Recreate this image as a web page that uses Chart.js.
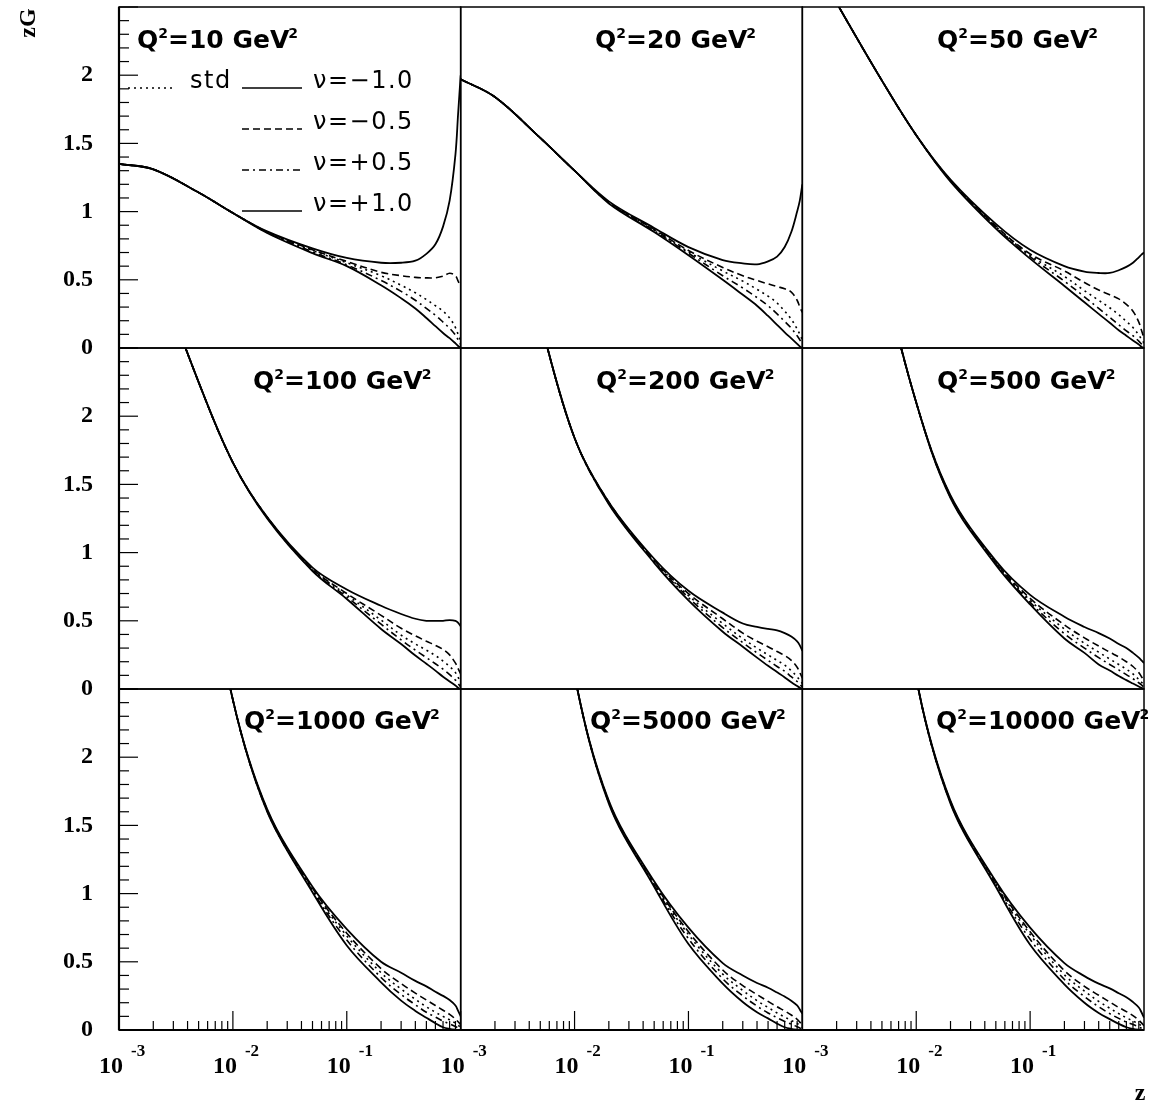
<!DOCTYPE html>
<html>
<head>
<meta charset="utf-8">
<title>zG vs z for several Q2</title>
<script src="https://cdn.jsdelivr.net/npm/chart.js@4.4.1/dist/chart.umd.min.js"></script>
<style>
  html, body { margin: 0; padding: 0; background: #fff; }
  #wrap { position: relative; width: 1165px; height: 1103px; overflow: hidden; }
  #wrap canvas { position: absolute; left: 0; top: 0; }
</style>
</head>
<body>
<div id="wrap"></div>
<script>
// ── Data ──────────────────────────────────────────────────────────────────────
// z grid shared by every curve
const Z = [0.001, 0.002, 0.005, 0.01, 0.02, 0.05, 0.1, 0.2, 0.3, 0.4, 0.5, 0.6, 0.7, 0.8, 0.9, 0.95, 1.0];

const Q2_VALUES = ['10', '20', '50', '100', '200', '500', '1000', '5000', '10000'];
const Y_TICKS   = [0, 0.5, 1, 1.5, 2];
const X_DECADES = [-3, -2, -1];

// Q2 = 10
const q10_m10 = [1.35, 1.31, 1.14, 0.99, 0.855, 0.73, 0.66, 0.625, 0.625, 0.64, 0.69, 0.76, 0.89, 1.08, 1.42, 1.72, 2.0];
const q10_m05 = [1.35, 1.31, 1.14, 0.99, 0.852, 0.72, 0.635, 0.555, 0.53, 0.518, 0.514, 0.515, 0.526, 0.548, 0.53, 0.49, 0.45];
const q10_std = [1.35, 1.31, 1.14, 0.99, 0.849, 0.715, 0.625, 0.53, 0.46, 0.405, 0.355, 0.31, 0.27, 0.22, 0.15, 0.10, 0.05];
const q10_p05 = [1.35, 1.31, 1.14, 0.99, 0.846, 0.705, 0.61, 0.495, 0.415, 0.35, 0.29, 0.24, 0.19, 0.145, 0.095, 0.06, 0.025];
const q10_p10 = [1.35, 1.31, 1.14, 0.99, 0.843, 0.695, 0.60, 0.46, 0.365, 0.29, 0.22, 0.16, 0.11, 0.072, 0.034, 0.015, 0.0];
// Q2 = 20
const q20_m10 = [1.97, 1.84, 1.54, 1.30, 1.075, 0.88, 0.74, 0.645, 0.62, 0.613, 0.635, 0.67, 0.74, 0.85, 1.00, 1.08, 1.20];
const q20_m05 = [1.97, 1.84, 1.54, 1.30, 1.07, 0.87, 0.715, 0.59, 0.53, 0.495, 0.47, 0.45, 0.435, 0.41, 0.35, 0.30, 0.26];
const q20_std = [1.97, 1.84, 1.54, 1.30, 1.07, 0.865, 0.705, 0.565, 0.49, 0.43, 0.38, 0.33, 0.27, 0.21, 0.14, 0.10, 0.06];
const q20_p05 = [1.97, 1.84, 1.54, 1.30, 1.065, 0.86, 0.695, 0.53, 0.44, 0.37, 0.31, 0.25, 0.195, 0.145, 0.09, 0.06, 0.03];
const q20_p10 = [1.97, 1.84, 1.54, 1.30, 1.06, 0.85, 0.68, 0.50, 0.39, 0.31, 0.235, 0.17, 0.115, 0.07, 0.03, 0.012, 0.0];
// Q2 = 50
const q50_m10 = [2.98, 2.53, 1.96, 1.56, 1.235, 0.91, 0.72, 0.60, 0.56, 0.55, 0.55, 0.57, 0.595, 0.625, 0.665, 0.685, 0.70];
const q50_m05 = [2.98, 2.53, 1.96, 1.56, 1.23, 0.895, 0.69, 0.565, 0.48, 0.425, 0.39, 0.36, 0.32, 0.27, 0.19, 0.13, 0.07];
const q50_std = [2.98, 2.53, 1.96, 1.56, 1.23, 0.89, 0.68, 0.525, 0.42, 0.35, 0.295, 0.245, 0.195, 0.15, 0.095, 0.065, 0.035];
const q50_p05 = [2.98, 2.53, 1.96, 1.56, 1.225, 0.885, 0.67, 0.49, 0.375, 0.29, 0.225, 0.17, 0.125, 0.09, 0.05, 0.03, 0.012];
const q50_p10 = [2.98, 2.53, 1.96, 1.56, 1.22, 0.875, 0.655, 0.455, 0.335, 0.25, 0.185, 0.13, 0.09, 0.055, 0.025, 0.01, 0.0];
// Q2 = 100
const q100_m10 = [3.9, 3.15, 2.25, 1.66, 1.26, 0.89, 0.73, 0.61, 0.55, 0.515, 0.50, 0.50, 0.50, 0.505, 0.50, 0.485, 0.46];
const q100_m05 = [3.9, 3.15, 2.25, 1.66, 1.26, 0.88, 0.70, 0.54, 0.445, 0.39, 0.35, 0.32, 0.29, 0.25, 0.19, 0.15, 0.11];
const q100_std = [3.9, 3.15, 2.25, 1.66, 1.26, 0.875, 0.69, 0.505, 0.395, 0.33, 0.285, 0.245, 0.205, 0.165, 0.12, 0.085, 0.05];
const q100_p05 = [3.9, 3.15, 2.25, 1.66, 1.255, 0.87, 0.675, 0.475, 0.36, 0.285, 0.23, 0.185, 0.145, 0.105, 0.065, 0.04, 0.015];
const q100_p10 = [3.9, 3.15, 2.25, 1.66, 1.25, 0.865, 0.66, 0.44, 0.33, 0.245, 0.185, 0.135, 0.09, 0.055, 0.025, 0.01, 0.0];
// Q2 = 200
const q200_m10 = [5.1, 4.0, 2.7, 1.84, 1.37, 0.955, 0.72, 0.56, 0.48, 0.455, 0.44, 0.43, 0.41, 0.385, 0.35, 0.32, 0.28];
const q200_m05 = [5.1, 4.0, 2.7, 1.84, 1.37, 0.945, 0.70, 0.515, 0.41, 0.35, 0.31, 0.275, 0.245, 0.21, 0.16, 0.12, 0.08];
const q200_std = [5.1, 4.0, 2.7, 1.84, 1.365, 0.94, 0.685, 0.48, 0.37, 0.30, 0.25, 0.21, 0.175, 0.135, 0.09, 0.065, 0.04];
const q200_p05 = [5.1, 4.0, 2.7, 1.84, 1.36, 0.935, 0.67, 0.45, 0.34, 0.265, 0.21, 0.165, 0.13, 0.09, 0.055, 0.035, 0.015];
const q200_p10 = [5.1, 4.0, 2.7, 1.84, 1.355, 0.925, 0.65, 0.42, 0.31, 0.23, 0.17, 0.125, 0.085, 0.05, 0.022, 0.01, 0.0];
// Q2 = 500
const q500_m10 = [6.3, 4.8, 3.1, 2.1, 1.42, 0.94, 0.69, 0.53, 0.455, 0.41, 0.37, 0.33, 0.30, 0.265, 0.23, 0.21, 0.19];
const q500_m05 = [6.3, 4.8, 3.1, 2.1, 1.415, 0.93, 0.665, 0.47, 0.375, 0.315, 0.27, 0.235, 0.20, 0.165, 0.12, 0.09, 0.06];
const q500_std = [6.3, 4.8, 3.1, 2.1, 1.41, 0.925, 0.65, 0.44, 0.335, 0.27, 0.22, 0.18, 0.145, 0.11, 0.07, 0.05, 0.03];
const q500_p05 = [6.3, 4.8, 3.1, 2.1, 1.405, 0.92, 0.635, 0.405, 0.30, 0.23, 0.18, 0.14, 0.105, 0.075, 0.045, 0.03, 0.012];
const q500_p10 = [6.3, 4.8, 3.1, 2.1, 1.40, 0.91, 0.62, 0.37, 0.265, 0.18, 0.135, 0.095, 0.065, 0.04, 0.018, 0.008, 0.0];
// Q2 = 1000
const q1000_m10 = [9.0, 6.6, 3.8, 2.42, 1.62, 1.05, 0.74, 0.50, 0.42, 0.36, 0.32, 0.28, 0.25, 0.22, 0.18, 0.14, 0.10];
const q1000_m05 = [9.0, 6.6, 3.8, 2.42, 1.615, 1.04, 0.71, 0.45, 0.34, 0.27, 0.22, 0.18, 0.145, 0.115, 0.08, 0.06, 0.04];
const q1000_std = [9.0, 6.6, 3.8, 2.42, 1.61, 1.03, 0.69, 0.42, 0.30, 0.225, 0.17, 0.13, 0.10, 0.075, 0.05, 0.035, 0.02];
const q1000_p05 = [9.0, 6.6, 3.8, 2.42, 1.605, 1.02, 0.66, 0.385, 0.26, 0.185, 0.13, 0.095, 0.065, 0.045, 0.025, 0.015, 0.005];
const q1000_p10 = [9.0, 6.6, 3.8, 2.42, 1.60, 1.01, 0.62, 0.35, 0.215, 0.14, 0.09, 0.05, 0.02, 0.008, 0.002, 0.001, 0.0];
// Q2 = 5000
const q5000_m10 = [10.5, 7.6, 4.2, 2.6, 1.68, 1.09, 0.75, 0.49, 0.40, 0.345, 0.31, 0.275, 0.245, 0.215, 0.18, 0.15, 0.12];
const q5000_m05 = [10.5, 7.6, 4.2, 2.6, 1.675, 1.08, 0.72, 0.44, 0.325, 0.26, 0.21, 0.17, 0.14, 0.11, 0.078, 0.058, 0.038];
const q5000_std = [10.5, 7.6, 4.2, 2.6, 1.67, 1.07, 0.70, 0.41, 0.29, 0.215, 0.165, 0.125, 0.095, 0.07, 0.048, 0.034, 0.02];
const q5000_p05 = [10.5, 7.6, 4.2, 2.6, 1.665, 1.06, 0.67, 0.375, 0.25, 0.175, 0.125, 0.09, 0.062, 0.042, 0.024, 0.014, 0.005];
const q5000_p10 = [10.5, 7.6, 4.2, 2.6, 1.66, 1.05, 0.63, 0.34, 0.205, 0.13, 0.085, 0.047, 0.02, 0.008, 0.002, 0.001, 0.0];
// Q2 = 10000
const q10000_m10 = [10.8, 7.8, 4.3, 2.58, 1.68, 1.09, 0.75, 0.49, 0.395, 0.34, 0.305, 0.27, 0.24, 0.205, 0.165, 0.13, 0.09];
const q10000_m05 = [10.8, 7.8, 4.3, 2.58, 1.675, 1.08, 0.72, 0.435, 0.32, 0.255, 0.205, 0.165, 0.135, 0.105, 0.072, 0.052, 0.032];
const q10000_std = [10.8, 7.8, 4.3, 2.58, 1.67, 1.07, 0.70, 0.405, 0.285, 0.21, 0.16, 0.12, 0.09, 0.066, 0.044, 0.03, 0.018];
const q10000_p05 = [10.8, 7.8, 4.3, 2.58, 1.665, 1.06, 0.665, 0.37, 0.245, 0.17, 0.12, 0.085, 0.058, 0.04, 0.022, 0.013, 0.005];
const q10000_p10 = [10.8, 7.8, 4.3, 2.58, 1.66, 1.05, 0.625, 0.335, 0.20, 0.125, 0.08, 0.045, 0.02, 0.008, 0.002, 0.001, 0.0];

const SERIES = [
  [q10_std, q10_m10, q10_m05, q10_p05, q10_p10],
  [q20_std, q20_m10, q20_m05, q20_p05, q20_p10],
  [q50_std, q50_m10, q50_m05, q50_p05, q50_p10],
  [q100_std, q100_m10, q100_m05, q100_p05, q100_p10],
  [q200_std, q200_m10, q200_m05, q200_p05, q200_p10],
  [q500_std, q500_m10, q500_m05, q500_p05, q500_p10],
  [q1000_std, q1000_m10, q1000_m05, q1000_p05, q1000_p10],
  [q5000_std, q5000_m10, q5000_m05, q5000_p05, q5000_p10],
  [q10000_std, q10000_m10, q10000_m05, q10000_p05, q10000_p10],
];

const CURVE_LABELS = ['std', 'ν=−1.0', 'ν=−0.5', 'ν=+0.5', 'ν=+1.0'];

// ── Layout / styles ───────────────────────────────────────────────────────────
const W = 1165, H = 1103;
const GRID_LEFT = 119, GRID_TOP = 7, CELL_W = 341.67, CELL_H = 341;
const Y_AXIS_W = 80;

const DASHES = [[2, 4], [], [7, 4], [7, 4, 2, 4], []];   // std, -1, -0.5, +0.5, +1

// title left x / baseline per panel
const TITLE_POS = [
  [137, 48], [595, 48], [937, 48],
  [253, 389], [596, 389], [937, 389],
  [244, 729], [590, 729], [936, 729],
];

const SERIF = '"Liberation Serif", "Times New Roman", serif';
const SANS  = '"DejaVu Sans", Arial, sans-serif';

function panelRect(row, col) {
  const left = GRID_LEFT + col * CELL_W;
  const top  = GRID_TOP + row * CELL_H;
  return { left, top, right: left + CELL_W, bottom: top + CELL_H };
}

function hline(ctx, x1, y1, x2, y2) {
  ctx.beginPath(); ctx.moveTo(x1, y1); ctx.lineTo(x2, y2); ctx.stroke();
}

function drawTitle(ctx, x, y, num) {
  const big = `bold 25px ${SANS}`, small = `bold 14px ${SANS}`;
  ctx.fillStyle = '#000';
  ctx.textAlign = 'left';
  ctx.textBaseline = 'alphabetic';
  ctx.font = big;  ctx.fillText('Q', x, y); x += ctx.measureText('Q').width;
  ctx.font = small; ctx.fillText('2', x, y - 10); x += ctx.measureText('2').width;
  ctx.font = big;  const s = '=' + num + ' GeV'; ctx.fillText(s, x, y); x += ctx.measureText(s).width - 1;
  ctx.font = small; ctx.fillText('2', x, y - 10);
}

function drawLegend(ctx) {
  ctx.save();
  ctx.strokeStyle = '#000';
  ctx.fillStyle = '#000';
  ctx.lineWidth = 1.6;
  ctx.font = `24px ${SANS}`;
  ctx.letterSpacing = '1.5px';
  ctx.textAlign = 'left';
  ctx.textBaseline = 'alphabetic';
  // std
  ctx.setLineDash(DASHES[0]);
  hline(ctx, 128, 88, 172, 88);
  ctx.setLineDash([]);
  ctx.fillText(CURVE_LABELS[0], 190, 88);
  const rows = [88, 129, 170, 211];
  for (let i = 1; i < 5; i++) {
    ctx.setLineDash(DASHES[i]);
    hline(ctx, 242, rows[i - 1], 302, rows[i - 1]);
    ctx.setLineDash([]);
    ctx.fillText(CURVE_LABELS[i], 313, rows[i - 1]);
  }
  ctx.restore();
}

function decorPlugin(idx, row, col) {
  return {
    id: 'decor' + idx,
    afterDatasetsDraw(chart) {
      const ctx = chart.ctx;
      const a = chart.chartArea;
      const xs = chart.scales.x, ys = chart.scales.y;
      ctx.save();
      ctx.strokeStyle = '#000';
      ctx.setLineDash([]);

      // inward tick marks on the left column
      ctx.lineWidth = 1.2;
      if (col === 0) {
        for (let i = 0; i <= 25; i++) {
          const y = ys.getPixelForValue(i / 10);
          hline(ctx, a.left, y, a.left + (i % 5 === 0 ? 19 : 10), y);
        }
      }
      // log ticks along the bottom row
      if (row === 2) {
        X_DECADES.forEach(d => {
          for (let k = 1; k <= 9; k++) {
            const x = xs.getPixelForValue(k * Math.pow(10, d));
            hline(ctx, x, a.bottom, x, a.bottom - (k === 1 ? 19 : 9));
          }
        });
        // labels 10^d
        ctx.fillStyle = '#000';
        ctx.textBaseline = 'alphabetic';
        X_DECADES.forEach(d => {
          const x = xs.getPixelForValue(Math.pow(10, d));
          ctx.font = `bold 24px ${SERIF}`;
          ctx.textAlign = 'right';
          ctx.fillText('10', x + 4, a.bottom + 43);
          ctx.font = `bold 17px ${SERIF}`;
          ctx.textAlign = 'left';
          ctx.fillText(String(d), x + 12, a.bottom + 26);
        });
      }

      // panel frame
      ctx.lineWidth = 1.5;
      ctx.strokeRect(a.left, a.top, a.right - a.left, a.bottom - a.top);
      ctx.lineWidth = 2.2;
      if (col === 0) hline(ctx, a.left, a.top, a.left, a.bottom);
      if (row === 2) hline(ctx, a.left, a.bottom, a.right, a.bottom);

      drawTitle(ctx, TITLE_POS[idx][0], TITLE_POS[idx][1], Q2_VALUES[idx]);

      if (idx === 0) {
        drawLegend(ctx);
        // axis titles
        ctx.fillStyle = '#000';
        ctx.font = `bold 24px ${SERIF}`;
        ctx.save();
        ctx.translate(35, 23);
        ctx.rotate(-Math.PI / 2);
        ctx.textAlign = 'center';
        ctx.textBaseline = 'alphabetic';
        ctx.fillText('zG', 0, 0);
        ctx.restore();
        ctx.textAlign = 'center';
        ctx.fillText('z', 1140, 1100);
      }
      ctx.restore();
    }
  };
}

// ── Charts ────────────────────────────────────────────────────────────────────
const wrap = document.getElementById('wrap');

SERIES.forEach((curves, idx) => {
  const row = Math.floor(idx / 3), col = idx % 3;
  const r = panelRect(row, col);
  const showY = col === 0;

  const canvas = document.createElement('canvas');
  canvas.width = W; canvas.height = H;
  canvas.style.width = W + 'px'; canvas.style.height = H + 'px';
  wrap.appendChild(canvas);

  const datasets = curves.map((vals, i) => ({
    label: CURVE_LABELS[i],
    data: Z.map((z, j) => ({ x: z, y: vals[j] })),
    borderColor: '#000',
    borderWidth: i === 1 || i === 4 ? 1.8 : 1.6,
    borderDash: DASHES[i],
    pointRadius: 0,
    tension: 0.35,
    fill: false,
  }));

  new Chart(canvas, {
    type: 'line',
    data: { datasets },
    options: {
      responsive: false,
      animation: false,
      devicePixelRatio: 1,
      events: [],
      layout: {
        autoPadding: false,
        padding: {
          left: r.left - (showY ? Y_AXIS_W : 0),
          right: W - r.right,
          top: r.top,
          bottom: H - r.bottom,
        },
      },
      plugins: { legend: { display: false }, tooltip: { enabled: false } },
      scales: {
        x: {
          type: 'logarithmic',
          min: 0.001,
          max: 1,
          display: false,
        },
        y: {
          type: 'linear',
          min: 0,
          max: 2.5,
          display: showY,
          afterFit: s => {
            if (!showY) return;
            s.width = Y_AXIS_W;
            s.paddingTop = 0;
            s.paddingBottom = 0;
          },
          grid: { display: false, drawTicks: false },
          border: { display: false },
          ticks: {
            stepSize: 0.5,
            padding: 26,
            color: '#000',
            font: { family: SERIF, size: 24, weight: 'bold' },
            callback: v => (Y_TICKS.includes(v) ? String(v) : ''),
          },
        },
      },
    },
    plugins: [decorPlugin(idx, row, col)],
  });
});
</script>
</body>
</html>
